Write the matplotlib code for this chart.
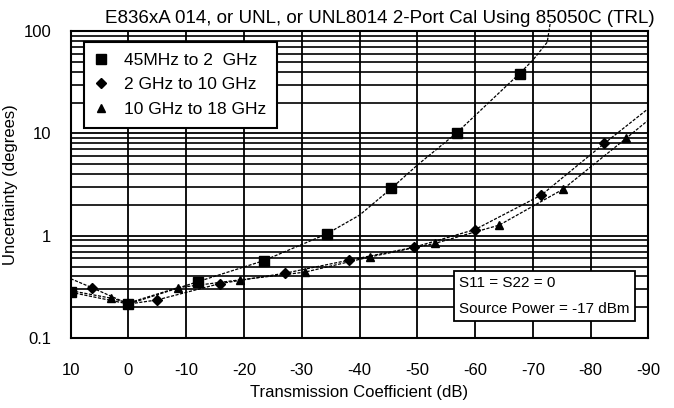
import matplotlib
matplotlib.use("Agg")
import matplotlib.pyplot as plt
from matplotlib.ticker import FixedLocator, NullFormatter, LogLocator

plt.rcParams['font.family'] = ['Liberation Sans', 'DejaVu Sans']

# markers
sq_x = [10, 0, -12, -23.4, -34.3, -45.5, -56.8, -67.7]
sq_y = [0.28, 0.215, 0.355, 0.57, 1.04, 2.9, 10.1, 38.5]
dm_x = [6.3, -4.9, -15.8, -27.1, -38.2, -49.4, -60, -71.5, -82.4]
dm_y = [0.31, 0.235, 0.34, 0.43, 0.577, 0.77, 1.15, 2.5, 8.0]
tr_x = [3.0, -8.5, -19.3, -30.5, -41.8, -53, -64.2, -75.2, -86.2]
tr_y = [0.245, 0.31, 0.37, 0.44, 0.62, 0.84, 1.27, 2.84, 9.0]

# fitted curves as they appear in the picture
sq_cx = [10, 0, -12, -23.4, -34.3, -40, -45.5, -50, -56.8, -67.7, -70, -72.5, -73]
sq_cy = [0.28, 0.215, 0.355, 0.57, 1.04, 1.59, 2.9, 4.9, 10.1, 38.5, 52, 78, 119]
dm_cx = [10, 6.3, 0, -4.9, -15.8, -27.1, -38.2, -49.4, -60, -71.5, -82.4, -90]
dm_cy = [0.38, 0.31, 0.215, 0.235, 0.34, 0.43, 0.577, 0.77, 1.15, 2.5, 8.0, 17.5]
tr_cx = [10, 3.0, 0, -8.5, -19.3, -30.5, -41.8, -53, -64.2, -75.2, -86.2, -90]
tr_cy = [0.29, 0.245, 0.22, 0.31, 0.37, 0.44, 0.62, 0.84, 1.27, 2.84, 9.0, 13.5]

labels = ["45MHz to 2  GHz", "2 GHz to 10 GHz", "10 GHz to 18 GHz"]
xticks = list(range(10, -91, -10))

fig = plt.figure(figsize=(6.74, 4.08), dpi=100)
ax = fig.add_axes([0.1049, 0.1716, 0.857, 0.752])

ax.set_yscale('log')
ax.set_xlim(10, -90)
ax.set_ylim(0.1, 100)

ls = (0, (2.5, 1.2))
ax.plot(sq_cx, sq_cy, color='black', lw=0.9, ls=ls, clip_on=False, zorder=3)
ax.plot(dm_cx, dm_cy, color='black', lw=0.9, ls=ls, zorder=3)
ax.plot(tr_cx, tr_cy, color='black', lw=0.9, ls=ls, zorder=3)

ax.plot(sq_x, sq_y, 's', color='black', ms=7, ls='none', label=labels[0], zorder=4)
ax.plot(dm_x, dm_y, 'D', color='black', ms=5, ls='none', label=labels[1], zorder=4)
ax.plot(tr_x, tr_y, '^', color='black', ms=6, ls='none', label=labels[2], zorder=4)

ax.xaxis.set_major_locator(FixedLocator(xticks))
ax.set_xticklabels([str(t) for t in xticks])
ax.yaxis.set_major_locator(FixedLocator([0.1, 1, 10, 100]))
ax.set_yticklabels(["0.1", "1", "10", "100"])
ax.yaxis.set_minor_locator(LogLocator(base=10, subs=range(2, 10)))
ax.yaxis.set_minor_formatter(NullFormatter())

ax.grid(True, which='major', color='black', lw=1.3)
ax.grid(True, which='minor', axis='y', color='black', lw=1.2)
ax.set_axisbelow(True)
ax.tick_params(which='both', length=0, labelsize=12)
ax.tick_params(axis='x', pad=18)
ax.tick_params(axis='y', pad=14)
for s in ax.spines.values():
    s.set_linewidth(1.5)

ax.set_xlabel("Transmission Coefficient (dB)", fontsize=12, labelpad=5)
ax.set_ylabel("Uncertainty (degrees)", fontsize=12, labelpad=4)
ax.set_title("E836xA 014, or UNL, or UNL8014 2-Port Cal Using 85050C (TRL)",
             fontsize=13.5, x=0.535, pad=6)

leg = ax.legend(loc='upper left', bbox_to_anchor=(0.023, 0.964), fontsize=12.5,
                frameon=True, fancybox=False, edgecolor='black', framealpha=1,
                handlelength=0.8, handletextpad=0.9, borderpad=0.6,
                labelspacing=0.55, borderaxespad=0)
leg.get_frame().set_linewidth(1.5)

ax.text(0.672, 0.137, "S11 = S22 = 0\n\nSource Power = -17 dBm", transform=ax.transAxes,
        fontsize=11, ha='left', va='center', linespacing=0.9, zorder=5,
        bbox=dict(boxstyle='square,pad=0.35', facecolor='white', edgecolor='black', lw=1.3))

fig.savefig("out.png", dpi=100)
